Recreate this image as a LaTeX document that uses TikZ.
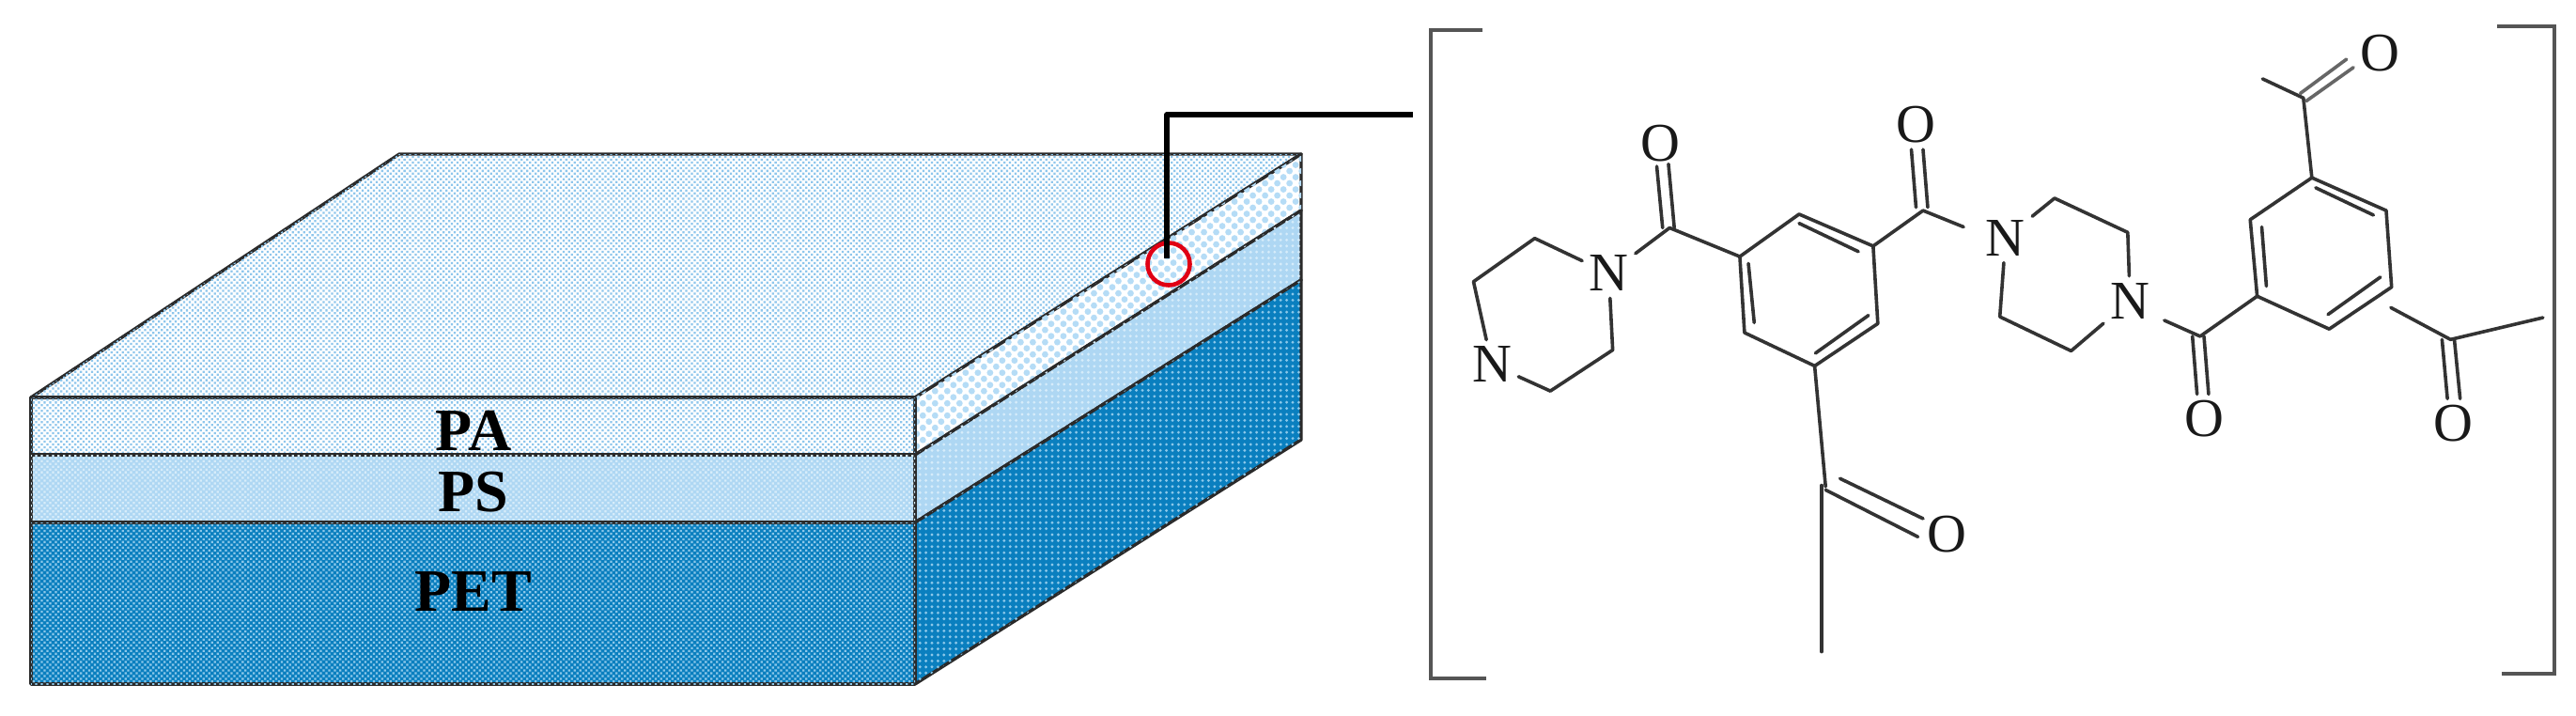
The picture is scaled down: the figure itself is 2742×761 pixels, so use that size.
\documentclass[tikz,border=0pt]{standalone}
\usepackage{fontspec}
\setmainfont{Liberation Serif}
\usetikzlibrary{patterns.meta}
\definecolor{edgeC}{HTML}{2A2A2A}
\definecolor{bondC}{HTML}{333333}
\definecolor{brackC}{HTML}{555555}
\definecolor{dotL}{HTML}{8EC6EC}
\definecolor{dotS}{HTML}{B5DCF6}
\definecolor{psF}{HTML}{AED7F3}
\definecolor{psD}{HTML}{D6ECFA}
\definecolor{petF}{HTML}{0A7FBF}
\definecolor{petD}{HTML}{8CC8EA}
\tikzset{
  face/.style n args={3}{fill=#1,postaction={pattern={Dots[distance=2.1pt,angle=45,radius=.8pt]},pattern color=#2},draw=edgeC,line width=#3,line join=round},
  sideface/.style n args={5}{fill=#1,postaction={pattern={Dots[distance=#3,angle=#4,radius=#5]},pattern color=#2},draw=edgeC,line width=1.7pt,line join=round},
  lay/.style={font=\fontsize{32}{36}\selectfont\bfseries,inner sep=0pt,text=black},
  atom/.style={font=\fontsize{29}{32}\selectfont,inner sep=3.5pt,text=black!90},
  bond/.style={draw=bondC,line width=1.8pt,line join=round,line cap=round},
  bracket/.style={draw=brackC,line width=2.2pt,line join=miter},
  lead/.style={draw=black,line width=2.8pt,line join=round},
}
\begin{document}
\begin{tikzpicture}[x=0.5pt,y=-0.5pt]
\useasboundingbox (0,0) rectangle (2742,761);
% block
\path[face={white}{dotL}{1.7pt}] (33,423) -- (425,164) -- (1385,164) -- (974,423) -- cycle;
\path[sideface={white}{dotS}{4.6pt}{45}{1.7pt}] (974,423) -- (1385,164) -- (1385,224) -- (974,484) -- cycle;
\path[sideface={psF}{psD}{3.2pt}{0}{.8pt}] (974,484) -- (1385,224) -- (1385,298) -- (974,556) -- cycle;
\path[sideface={petF}{petD}{3.2pt}{0}{.8pt}] (974,556) -- (1385,298) -- (1385,468) -- (974,728) -- cycle;
\path[face={white}{dotL}{1.9pt}] (33,423) rectangle (974,484);
\path[face={psF}{psD}{1.9pt}] (33,484) rectangle (974,556);
\path[face={petF}{petD}{1.9pt}] (33,556) rectangle (974,728);
\node[lay] (pa) at (504,458) {PA};
\node[lay] (ps) at (504,524) {PS};
\node[lay] (pet) at (504,630) {PET};
% marker and lead
\node[circle,draw={rgb,255:red,224;green,0;blue,20},line width=2.3pt,minimum size=22.5pt,inner sep=0pt] (mark) at (1244,281) {};
\coordinate (leadA) at (1242,275);
\coordinate (leadB) at (1242,122);
\coordinate (leadC) at (1504,122);
\draw[lead] (leadA) -- (leadB) -- (leadC);
% brackets
\draw[bracket] (1578,32) -- (1523,32) -- (1523,722) -- (1582,722);
\draw[bracket] (2658,28) -- (2719,28) -- (2719,717) -- (2663,717);
% left half of the molecule
\begin{scope}[shift={(1500,0)},xscale=.415,yscale=.485]
\node[atom] (N1) at (512,600) {N};
\node[atom] (N2) at (212,800) {N};
\node[atom] (O1) at (645,315) {O};
\node[atom] (O2) at (1300,273) {O};
\node[atom] (O3) at (1380,1173) {O};
\coordinate (a1) at (322,523); \coordinate (a2) at (165,618);
\coordinate (a3) at (362,858); \coordinate (a4) at (522,768);
\coordinate (c1) at (668,500); \coordinate (c2) at (1318,462);
\coordinate (c3) at (1068,1068); \coordinate (c3e) at (1058,1430); \coordinate (c3t) at (1058,1065);
\coordinate (c2e) at (1422,498);
\coordinate (r1) at (848,563); \coordinate (r2) at (1000,470); \coordinate (r3) at (1190,540);
\coordinate (r4) at (1202,710); \coordinate (r5) at (1040,803); \coordinate (r6) at (860,730);
\draw[bond] (N1) -- (a1) -- (a2) -- (N2);
\draw[bond] (N2) -- (a3) -- (a4) -- (N1);
\draw[bond] (N1) -- (c1) -- (r1);
\draw[bond] (r1) -- (r2) -- (r3) -- (r4) -- (r5) -- (r6) -- cycle;
\draw[bond] (1000,490) -- (1152,552) (1178,692) -- (1042,775) (885,708) -- (870,578);
\draw[bond] (635,365) -- (650,500) (665,360) -- (680,500);
\draw[bond] (r3) -- (c2) -- (c2e);
\draw[bond] (1288,328) -- (1300,455) (1318,328) -- (1330,455);
\draw[bond] (r5) -- (c3);
\draw[bond] (c3t) -- (c3e);
\draw[bond] (1068,1075) -- (1305,1178) (1105,1050) -- (1318,1138);
\end{scope}
% right half of the molecule
\begin{scope}[shift={(2100,0)},xscale=.41,yscale=.485]
\node[atom] (N3) at (85,522) {N};
\node[atom] (N4) at (408,660) {N};
\node[atom] (O4) at (600,918) {O};
\node[atom] (O5) at (1058,117) {O};
\node[atom] (O6) at (1248,930) {O};
\coordinate (b1) at (212,435); \coordinate (b2) at (402,510);
\coordinate (b3) at (255,770); \coordinate (b4) at (70,695);
\coordinate (d1) at (590,738); \coordinate (d1e) at (497,703);
\coordinate (d2) at (858,215); \coordinate (d2e) at (752,173);
\coordinate (d3) at (1240,745); \coordinate (d3a) at (1085,675); \coordinate (d3b) at (1480,697);
\coordinate (s1) at (738,650); \coordinate (s2) at (720,482); \coordinate (s3) at (880,390);
\coordinate (s4) at (1073,462); \coordinate (s5) at (1087,630); \coordinate (s6) at (925,722);
\draw[bond] (N3) -- (b1) -- (b2) -- (N4);
\draw[bond] (N4) -- (b3) -- (b4) -- (N3);
\draw[bond] (d1e) -- (d1) -- (s1);
\draw[bond] (s1) -- (s2) -- (s3) -- (s4) -- (s5) -- (s6) -- cycle;
\draw[bond] (762,628) -- (750,498) (890,412) -- (1040,472) (1058,608) -- (922,690);
\draw[bond] (570,738) -- (582,865) (600,738) -- (612,865);
\draw[bond] (s3) -- (d2) -- (d2e);
\draw[bond,draw=bondC!75] (865,222) -- (988,148) (850,205) -- (970,130);
\draw[bond] (d3a) -- (d3) -- (d3b);
\draw[bond] (1218,745) -- (1232,875) (1250,745) -- (1265,875);
\end{scope}
\end{tikzpicture}
\end{document}
